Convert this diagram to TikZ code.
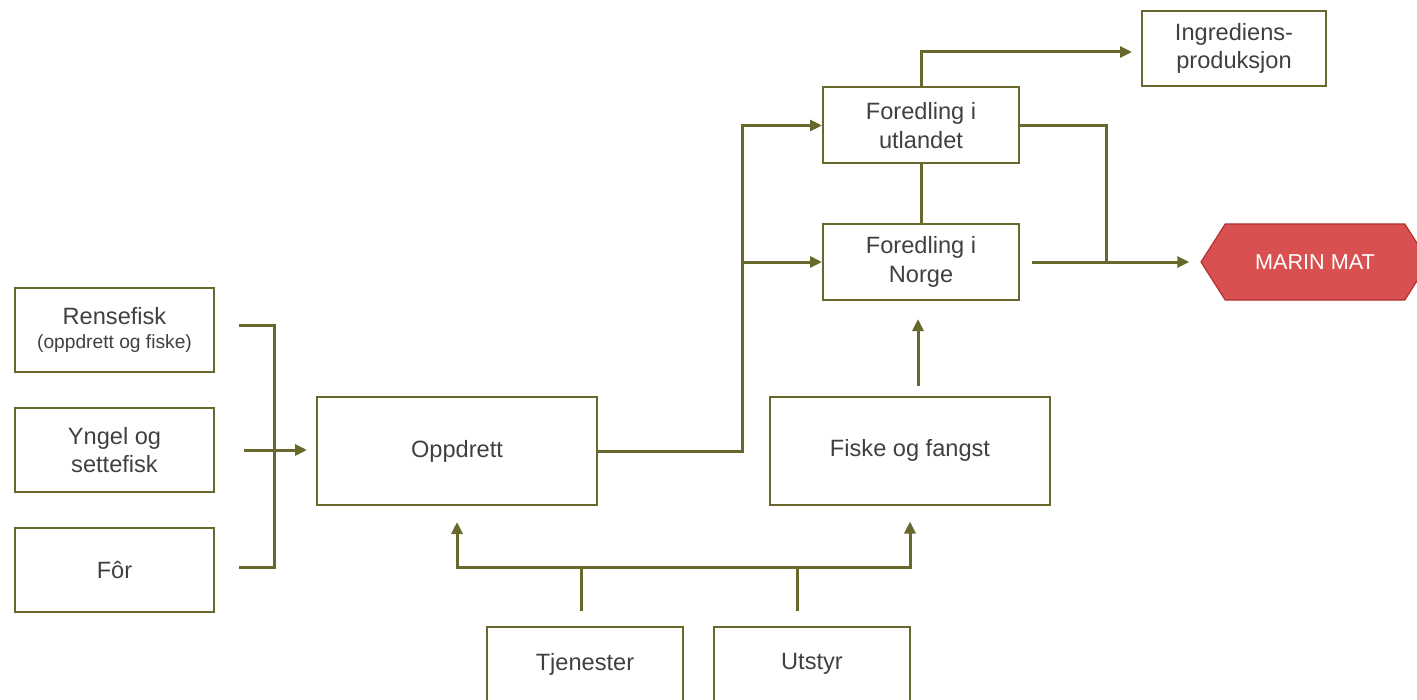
\documentclass[tikz,border=0pt]{standalone}
\usepackage{fontspec}
\setmainfont{Liberation Sans}
\usetikzlibrary{shapes.symbols, arrows.meta}
\definecolor{lineolive}{RGB}{104,104,44}
\definecolor{textgray}{RGB}{64,64,64}
\definecolor{marinred}{RGB}{217,80,80}
\definecolor{marinedge}{RGB}{180,50,50}
\newcommand{\boxfont}{\fontsize{11.8pt}{14.2pt}\selectfont}
\newcommand{\notefont}{\fontsize{9.6pt}{12.5pt}\selectfont}
\newcommand{\matfont}{\fontsize{10.8pt}{13pt}\selectfont}
\tikzstyle{box} = [rectangle, 
minimum width=99.5pt, 
minimum height=42pt, 
inner sep=0pt,
align=center, 
draw=lineolive, 
line width=1pt,
text=textgray,
font=\boxfont]
\tikzstyle{bigbox} = [box, 
minimum width=140pt, 
minimum height=54pt]
\tikzstyle{refbox} = [box, 
minimum width=98pt, 
minimum height=38pt]
\tikzstyle{ingbox} = [box, 
minimum width=92pt, 
minimum height=37.5pt]
\tikzstyle{basebox} = [box, 
minimum width=98pt, 
minimum height=37pt]
\tikzstyle{goal} = [signal, 
signal to=west and east, 
signal pointer angle=115, 
minimum width=114pt, 
minimum height=38pt, 
inner sep=0pt,
fill=marinred, 
draw=marinedge, 
line width=0.6pt,
text=white, 
font=\matfont]
\tikzstyle{line} = [line width=1.5pt, draw=lineolive]
\tikzstyle{arrow} = [line, -{Triangle[length=6pt,width=5.5pt]}]

\begin{document}
\begin{tikzpicture}[x=0.5pt, y=-0.5pt, node distance=60pt]
\useasboundingbox (0,0) rectangle (1417,700);

\node (rense) [box] at (114.5,330) {Rensefisk\\[-2pt]{\notefont (oppdrett og fiske)}};
\node (yngel) [box, below of=rense] {Yngel og\\settefisk};
\node (foer) [box, below of=yngel] {Fôr};
\node (oppdrett) [bigbox] at (457,451) {Oppdrett};
\node (fiske) [bigbox] at (910,450.5) {Fiske og fangst};
\node (norge) [refbox] at (921,262) {Foredling i\\Norge};
\node (utland) [refbox, above of=norge, yshift=8.25pt] {Foredling i\\utlandet};
\node (ingred) [ingbox] at (1234,48.5) {Ingrediens-\\produksjon};
\node (marin) [goal] at (1315,262) {MARIN MAT};
\node (tjenester) [basebox] at (585,664) {Tjenester};
\node (utstyr) [basebox] at (812,664) {Utstyr};

% inputs to oppdrett
\draw [line] ([xshift=12pt,yshift=2.5pt]rense.east) -- ++(17.5pt,0) |- ([xshift=12pt,yshift=1.5pt]foer.east);
\draw [arrow, shorten >=4.5pt] ([xshift=14.5pt]yngel.east) -- (yngel.east -| oppdrett.west);

% oppdrett to foredling
\path (oppdrett.east) ++(72pt,0) coordinate (split);
\draw [arrow] (oppdrett.east) -- (split) |- (utland.west);
\draw [arrow] (split |- norge.west) -- (norge.west);
\draw [line] (utland.south) -- (norge.north);
\draw [arrow, shorten >=4.5pt] (utland.north) |- ([yshift=-1.75pt]ingred.west);
\path (utland.east) ++(43pt,0) coordinate (merge);
\draw [line] (utland.east) -| (merge |- norge.east);
\draw [arrow, shorten >=5.5pt] ([xshift=6pt]norge.east) -- (marin.west);
\draw [arrow] ([xshift=4pt,yshift=5pt]fiske.north) -- ([xshift=-1.5pt,yshift=-9pt]norge.south);

% support
\draw [arrow, shorten >=8pt] ([xshift=-2pt,yshift=7.5pt]tjenester.north) -- ++(0,22pt) -| (fiske.south);
\draw [arrow, shorten >=8pt] ([xshift=-7.5pt,yshift=7.5pt]utstyr.north) -- ++(0,22pt) -| (oppdrett.south);

\end{tikzpicture}
\end{document}
